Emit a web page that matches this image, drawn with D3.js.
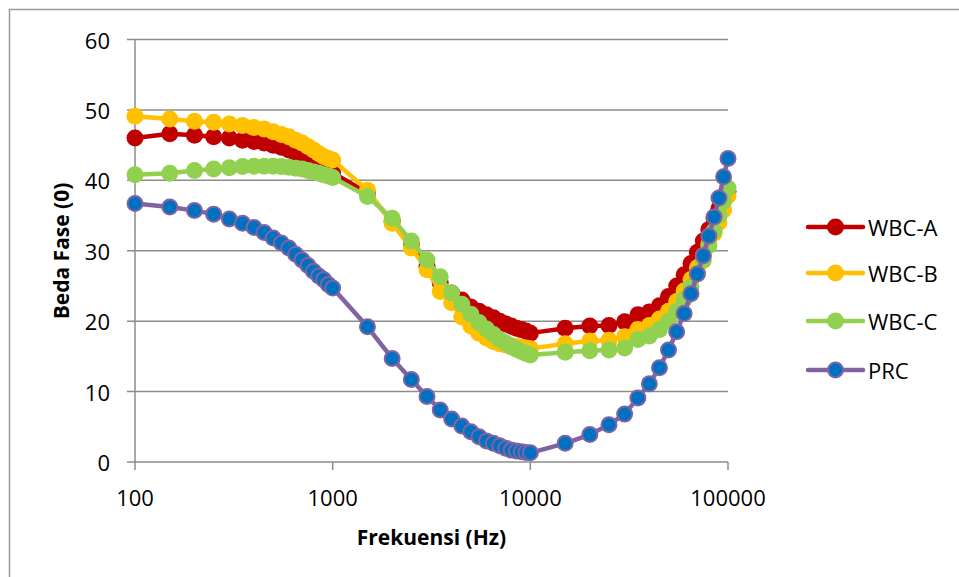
<!DOCTYPE html>
<html>
<head>
<meta charset="utf-8">
<script src="https://cdn.jsdelivr.net/npm/d3@7"></script>
<style>
  body { margin: 0; background: #fff; }
  text { font-family: "Open Sans", "Liberation Sans", sans-serif; fill: #000; }
</style>
</head>
<body>
<svg id="chart"></svg>
<script>
let w = 959;
let h = 577;

// frequencies (Hz)
let freqs = [100, 150, 200, 250, 300, 350, 400, 450, 500, 550, 600, 650, 700, 750, 800, 850, 900, 950, 1000,
  1500, 2000, 2500, 3000, 3500, 4000, 4500, 5000, 5500, 6000, 6500, 7000, 7500, 8000, 8500, 9000, 9500, 10000,
  15000, 20000, 25000, 30000, 35000, 40000, 45000, 50000, 55000, 60000, 65000, 70000, 75000, 80000, 85000, 90000, 95000, 100000];

let wbcA = [46.0, 46.6, 46.4, 46.2, 46.0, 45.7, 45.5, 45.3, 45.0, 44.7, 44.3, 43.9, 43.5, 43.1, 42.7, 42.3, 41.9, 41.5, 41.1,
  38.2, 34.2, 30.8, 27.8, 25.5, 24.0, 23.0, 22.0, 21.4, 20.9, 20.5, 20.0, 19.6, 19.3, 19.0, 18.8, 18.6, 18.3,
  19.0, 19.3, 19.4, 19.9, 20.9, 21.3, 22.2, 23.5, 25.0, 26.6, 28.2, 29.8, 31.4, 33.0, 34.6, 36.0, 37.3, 38.4];

let wbcB = [49.1, 48.7, 48.4, 48.25, 48.0, 47.8, 47.5, 47.3, 46.9, 46.5, 46.2, 45.7, 45.3, 44.8, 44.3, 43.8, 43.4, 43.1, 42.9,
  38.6, 33.9, 30.4, 27.3, 24.2, 22.6, 20.6, 19.3, 18.3, 17.6, 17.1, 16.8, 16.6, 16.5, 16.4, 16.3, 16.2, 16.1,
  16.8, 17.2, 17.3, 17.8, 18.8, 19.4, 20.3, 21.4, 22.8, 24.3, 25.9, 27.6, 29.3, 31.0, 32.5, 34.0, 35.8, 37.8];

let wbcC = [40.8, 41.0, 41.4, 41.6, 41.8, 41.95, 42.0, 42.0, 42.0, 41.95, 41.85, 41.7, 41.6, 41.4, 41.2, 41.0, 40.8, 40.6, 40.4,
  37.7, 34.6, 31.4, 28.7, 26.3, 24.0, 22.4, 21.0, 19.8, 18.9, 18.1, 17.4, 16.9, 16.4, 16.0, 15.7, 15.4, 15.2,
  15.6, 15.8, 15.9, 16.2, 17.4, 17.9, 18.8, 20.0, 21.4, 23.1, 24.9, 26.8, 28.6, 30.7, 32.8, 35.0, 37.0, 38.9];

let prc = [36.7, 36.2, 35.7, 35.2, 34.5, 33.9, 33.3, 32.6, 31.8, 31.1, 30.4, 29.5, 28.7, 27.9, 27.1, 26.4, 25.9, 25.2, 24.7,
  19.2, 14.7, 11.7, 9.3, 7.4, 6.1, 5.1, 4.3, 3.6, 3.0, 2.65, 2.3, 1.95, 1.7, 1.55, 1.45, 1.35, 1.3,
  2.65, 3.9, 5.3, 6.8, 9.1, 11.1, 13.4, 15.9, 18.5, 21.1, 23.9, 26.7, 29.3, 32.1, 34.8, 37.5, 40.5, 43.1];

let seriesNames = ["WBC-A", "WBC-B", "WBC-C", "PRC"];
let seriesValues = [wbcA, wbcB, wbcC, prc];
let lineColors = ["#C00000", "#FFC000", "#92D050", "#8064A2"];
let markerColors = ["#C00000", "#FFC000", "#92D050", "#0070C0"];

let xTicks = [100, 1000, 10000, 100000];
let yTicks = [0, 10, 20, 30, 40, 50, 60];

let plotLeft = 135, plotRight = 728, plotTop = 39.5, plotBottom = 462;
let gridColor = "#8c8c8c";

let svg = d3.select("#chart").attr("width", w).attr("height", h);

// outer chart border
svg.append("rect")
   .attr("x", 9.5).attr("y", 9.5)
   .attr("width", 1000).attr("height", 1000)
   .attr("fill", "none")
   .attr("stroke", "#999")
   .attr("stroke-width", 1.5);

let xScale = d3.scaleLog().domain([100, 100000]).range([plotLeft, plotRight]);
let yScale = d3.scaleLinear().domain([0, 60]).range([plotBottom, plotTop]);

// horizontal gridlines + y tick marks
svg.append("g")
   .selectAll("line")
   .data(yTicks)
   .enter()
   .append("line")
   .attr("x1", plotLeft - 8)
   .attr("x2", plotRight)
   .attr("y1", (d) => yScale(d))
   .attr("y2", (d) => yScale(d))
   .attr("stroke", gridColor)
   .attr("stroke-width", 1.5);

// y axis line
svg.append("line")
   .attr("x1", plotLeft).attr("x2", plotLeft)
   .attr("y1", plotTop).attr("y2", plotBottom)
   .attr("stroke", gridColor)
   .attr("stroke-width", 1.5);

// x ticks (down from axis)
svg.append("g")
   .selectAll("line")
   .data(xTicks)
   .enter()
   .append("line")
   .attr("x1", (d) => xScale(d))
   .attr("x2", (d) => xScale(d))
   .attr("y1", plotBottom)
   .attr("y2", plotBottom + 8)
   .attr("stroke", gridColor)
   .attr("stroke-width", 1.5);

// y tick labels
svg.append("g")
   .selectAll("text")
   .data(yTicks)
   .enter()
   .append("text")
   .attr("x", 110)
   .attr("y", (d) => yScale(d))
   .attr("text-anchor", "end")
   .attr("dominant-baseline", "central")
   .style("font-size", "22px")
   .text((d) => d);

// x tick labels
svg.append("g")
   .selectAll("text")
   .data(xTicks)
   .enter()
   .append("text")
   .attr("x", (d) => xScale(d))
   .attr("y", 497)
   .attr("text-anchor", "middle")
   .attr("dominant-baseline", "central")
   .style("font-size", "22px")
   .text((d) => d);

// axis titles
svg.append("text")
   .attr("x", (plotLeft + plotRight) / 2)
   .attr("y", 537)
   .attr("text-anchor", "middle")
   .attr("dominant-baseline", "central")
   .style("font-size", "21px")
   .style("font-weight", "bold")
   .text("Frekuensi (Hz)");

svg.append("text")
   .attr("transform", "translate(61, 251) rotate(-90)")
   .attr("text-anchor", "middle")
   .attr("dominant-baseline", "central")
   .style("font-size", "21px")
   .style("font-weight", "bold")
   .text("Beda Fase (0)");

// series
let line = d3.line()
   .x((d) => xScale(d[0]))
   .y((d) => yScale(d[1]));

seriesValues.forEach((vals, i) => {
  let pts = freqs.map((f, j) => [f, vals[j]]);
  let g = svg.append("g");
  g.append("path")
   .attr("d", line(pts))
   .attr("fill", "none")
   .attr("stroke", lineColors[i])
   .attr("stroke-width", 4.5)
   .attr("stroke-linejoin", "round");
  g.selectAll("circle")
   .data(pts)
   .enter()
   .append("circle")
   .attr("cx", (d) => xScale(d[0]))
   .attr("cy", (d) => yScale(d[1]))
   .attr("r", i === 3 ? 7.5 : 8.5)
   .attr("fill", markerColors[i])
   .attr("stroke", lineColors[i])
   .attr("stroke-width", i === 3 ? 2 : 0);
});

// legend
let legendY = [227, 273, 321, 370];
let legend = svg.append("g");
seriesNames.forEach((name, i) => {
  legend.append("line")
        .attr("x1", 808).attr("x2", 863)
        .attr("y1", legendY[i]).attr("y2", legendY[i])
        .attr("stroke", lineColors[i])
        .attr("stroke-width", 4.5)
        .attr("stroke-linecap", "round");
  legend.append("circle")
        .attr("cx", 835.5).attr("cy", legendY[i])
        .attr("r", i === 3 ? 7.5 : 8.5)
        .attr("fill", markerColors[i])
        .attr("stroke", lineColors[i])
        .attr("stroke-width", i === 3 ? 2 : 0);
  legend.append("text")
        .attr("x", 868)
        .attr("y", legendY[i])
        .attr("dominant-baseline", "central")
        .style("font-size", "22px")
        .text(name);
});
</script>
</body>
</html>
